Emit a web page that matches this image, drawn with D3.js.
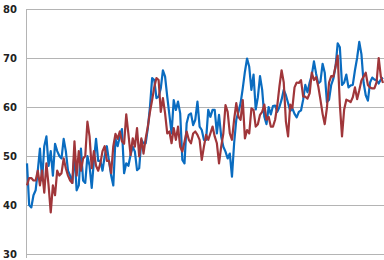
<!DOCTYPE html>
<html>
<head>
<meta charset="utf-8">
<script src="https://cdn.jsdelivr.net/npm/d3@7"></script>
<style>
  body { margin: 0; background: #fff; }
  svg { display: block; }
</style>
</head>
<body>
<script>
// values, one per period
let blueValues = [
    48.5, 40, 39.5, 42, 43, 47, 51.5, 45, 52, 54, 48, 51, 46, 52.5, 51, 50,
    49.5, 53.5, 51, 47, 46, 44.5, 50.5, 43, 44, 51.5, 45, 44.5, 50, 48, 43.5, 49,
    53.5, 49, 49, 47, 50, 52, 49, 46, 44, 53.5, 52, 54, 55.5, 46.5, 48.5, 48,
    50.2, 51.9, 50.9, 47.1, 47.5, 53.3, 52.6, 52.6, 55.7, 60.1, 65.9, 65.5, 61.8, 62.1,
    63.8, 67.5, 66.2, 62.1, 58.4, 54.6, 61.4, 59.4, 61.1, 58.7, 49.2, 48.5, 56.7, 58.4,
    58.7, 56.3, 57.4, 61.1, 56, 55.3, 53.3, 53.3, 59.4, 58, 59.4, 59.4, 54.6, 58.4,
    54, 51.9, 50.9, 49.5, 50.5, 45.8, 52.6, 57.4, 59, 60.8, 63.8, 67.2, 69.9, 68.2, 63.5,
    66.6, 59.5, 62, 66.3, 63.5, 58, 56.5, 60, 58.5, 60.2, 60.3, 59, 60, 61.5, 63.5,
    62.4, 60.8, 59.2, 59.7, 58.6, 57.9, 59, 59.3, 61.5, 64.5, 63, 65, 66.5, 69.3,
    66.8, 64.8, 65.2, 68.8, 67, 61, 61.5, 64.5, 65.8, 68.2, 73, 72.2, 64.5, 65,
    66.6, 64, 64.4, 64.5, 67.5, 70, 73.3, 70.8, 65, 62.4, 61.3, 65, 66, 65.6,
    65.5, 64.8, 65.6, 66
];

let redValues = [
    44, 45.5, 45.5, 45, 45, 47, 44, 47, 42.5, 48.5, 44, 38.5, 44, 42, 47, 46,
    46.5, 49.5, 47.5, 46, 45, 44.5, 53, 46, 51, 47, 49.5, 50, 57, 54, 47.5, 51,
    48, 47, 48.5, 51, 52, 49, 49, 46.5, 52, 54.5, 53.5, 55, 53, 52.5, 58.5, 54.5,
    50.2, 53.6, 51.9, 55.7, 49.9, 53.6, 50.5, 53.6, 56, 59, 61.4, 64.1, 65.9, 65.5,
    59, 61.8, 58.7, 54.6, 55, 52.6, 55.7, 53.3, 56, 51.9, 50.9, 52.9, 55, 53.3,
    52.6, 54.6, 55, 54.3, 53.3, 49.2, 51.9, 54.3, 53.3, 54.6, 56, 54, 52.6, 48.5,
    51.9, 54.6, 60.4, 59, 54.6, 53.3, 57.4, 60.8, 58, 57.4, 61.4, 53.6, 55.3, 54.6, 59.7,
    59.4, 56, 56.5, 58.4, 59, 60.5, 57.4, 58, 56, 56, 57.4, 60.3, 64.2, 67.5,
    65, 57, 54, 60.5, 59.8, 64, 65, 64.9, 65.5, 62.1, 62.1, 61.7, 62.8, 67,
    65.5, 66.1, 64.2, 61.5, 58.6, 56.5, 59.8, 65, 66.3, 66.2, 68.3, 70.5, 60.5, 54,
    59.5, 61.5, 61.3, 61, 62, 64, 61.6, 63.4, 65.4, 66.2, 67, 64.5, 64, 63.8,
    63.8, 65, 70, 66.2, 64.9
];

let yTicks = [30, 40, 50, 60, 70, 80];

let width = 384, height = 260;

let svg = d3
    .select("body")
    .append("svg")
    .attr("width", width)
    .attr("height", height);

let x = d3.scaleLinear()
    .domain([0, blueValues.length - 1])
    .range([27, 383]);

let y = d3.scaleLinear()
    .domain([30, 80])
    .range([254, 9]);

// gridlines
svg.append("g")
    .selectAll("line")
    .data(yTicks)
    .join("line")
    .attr("x1", 26)
    .attr("x2", width)
    .attr("y1", (d) => y(d) + 0.5)
    .attr("y2", (d) => y(d) + 0.5)
    .attr("stroke", "#b4b4b4")
    .attr("stroke-width", 1);

// left axis line
svg.append("line")
    .attr("x1", 26.5)
    .attr("x2", 26.5)
    .attr("y1", y(80))
    .attr("y2", y(30) + 4)
    .attr("stroke", "#b4b4b4");

// tick labels
svg.append("g")
    .selectAll("text")
    .data(yTicks)
    .join("text")
    .attr("x", 17)
    .attr("y", (d) => y(d) + 1)
    .attr("text-anchor", "end")
    .attr("dominant-baseline", "middle")
    .attr("font-family", "DejaVu Sans, sans-serif")
    .attr("font-size", 10)
    .attr("font-weight", "bold")
    .attr("fill", "#222")
    .text((d) => d);

let line = d3.line()
    .x((d, i) => x(i))
    .y((d) => y(d));

function drawSeries(values, color) {
    svg.append("path")
        .datum(values)
        .attr("d", line)
        .attr("fill", "none")
        .attr("stroke", color)
        .attr("stroke-width", 2.2)
        .attr("stroke-linejoin", "round");
}

drawSeries(blueValues, "#0a6cc0");
drawSeries(redValues, "#a0363a");
</script>
</body>
</html>
